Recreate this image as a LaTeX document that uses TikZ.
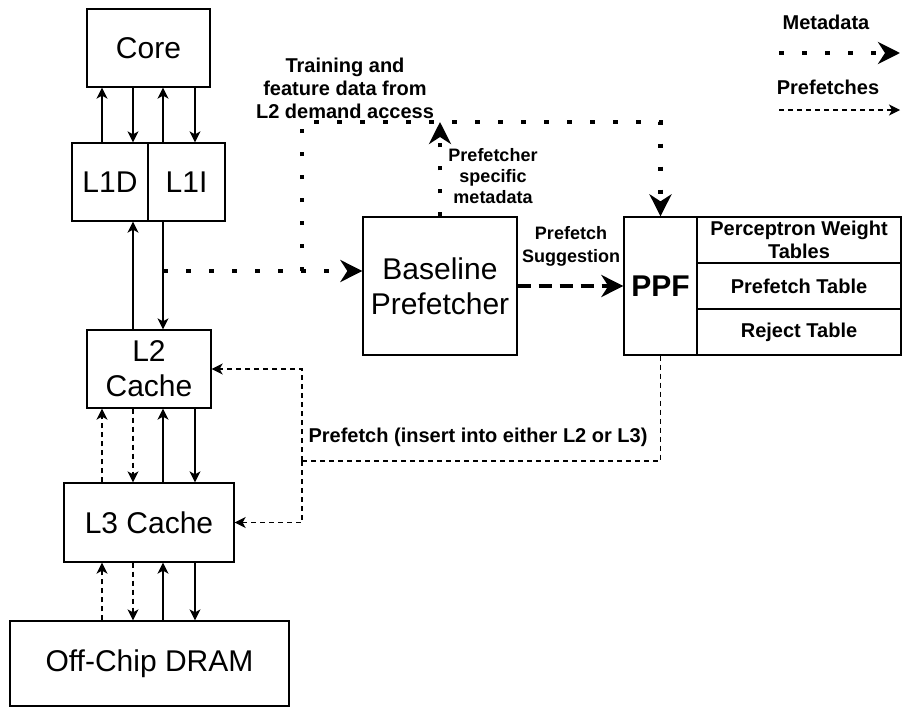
\documentclass[tikz,border=0pt]{standalone}
\usepackage{fontspec}
\setmainfont{Liberation Sans}
\usetikzlibrary{arrows.meta}
\tikzset{
  box/.style={draw, line width=1.3pt, inner sep=0pt, align=center, font=\fontsize{30}{35}\selectfont},
  lbl/.style={inner sep=0pt, align=center, font=\bfseries\fontsize{20}{22}\selectfont},
  conn/.style={line width=1.3pt, -{Stealth[length=11pt,width=11pt,inset=3pt]}},
  pfline/.style={line width=1.3pt, dash pattern=on 5pt off 4pt},
  pfarrow/.style={pfline, -{Stealth[length=11pt,width=11pt,inset=3pt]}},
  meta/.style={line width=4.5pt, dash pattern=on 4.5pt off 18.5pt},
  metaarrow/.style={meta, -{Stealth[length=22pt,width=22pt,inset=7pt]}},
  sugg/.style={line width=4.5pt, dash pattern=on 13pt off 8pt, -{Stealth[length=22pt,width=22pt,inset=7pt]}},
}
\begin{document}
\begin{tikzpicture}[x=1pt,y=-1pt]
\useasboundingbox (0,0) rectangle (902,707);

% boxes
\node[box, minimum width=123pt, minimum height=78pt] (core) at (148.5,48) {Core};
\node[box, minimum width=76pt, minimum height=78pt] (l1d) at (110,182) {L1D};
\node[box, minimum width=77pt, minimum height=78pt] (l1i) at (186.5,182) {L1I};
\node[box, minimum width=124pt, minimum height=78pt] (l2) at (149,369) {L2\\Cache};
\node[box, minimum width=170pt, minimum height=79pt] (l3) at (149,522.5) {L3 Cache};
\node[box, minimum width=279pt, minimum height=85pt] (dram) at (149.5,663.5) {Off-Chip DRAM};
\node[box, minimum width=154pt, minimum height=138pt] (base) at (440,286) {Baseline\\Prefetcher};
\node[box, minimum width=73pt, minimum height=138pt, font=\bfseries\fontsize{30}{35}\selectfont] (ppf) at (660.5,286) {PPF};
\node[box, minimum width=204pt, minimum height=46pt, font=\bfseries\fontsize{20}{23}\selectfont] (tab1) at (799,240) {Perceptron Weight\\Tables};
\node[box, minimum width=204pt, minimum height=46pt, font=\bfseries\fontsize{20}{23}\selectfont] (tab2) at (799,286) {Prefetch Table};
\node[box, minimum width=204pt, minimum height=46pt, font=\bfseries\fontsize{20}{23}\selectfont] (tab3) at (799,332) {Reject Table};

% column coordinates
\coordinate (ca) at (102,0);
\coordinate (cb) at (133,0);
\coordinate (cc) at (163,0);
\coordinate (cd) at (195,0);

% core <-> L1
\draw[conn] (l1d.north -| ca) -- (core.south -| ca);
\draw[conn] (core.south -| cb) -- (l1d.north -| cb);
\draw[conn] (l1i.north -| cc) -- (core.south -| cc);
\draw[conn] (core.south -| cd) -- (l1i.north -| cd);

% L1 <-> L2
\draw[conn] (l2.north -| cb) -- (l1d.south -| cb);
\draw[conn] (l1i.south -| cc) -- (l2.north -| cc);

% L2 <-> L3
\draw[pfarrow] (l3.north -| ca) -- (l2.south -| ca);
\draw[pfarrow] (l2.south -| cb) -- (l3.north -| cb);
\draw[conn] (l3.north -| cc) -- (l2.south -| cc);
\draw[conn] (l2.south -| cd) -- (l3.north -| cd);

% L3 <-> DRAM
\draw[pfarrow] (dram.north -| ca) -- (l3.south -| ca);
\draw[pfarrow] (l3.south -| cb) -- (dram.north -| cb);
\draw[conn] (dram.north -| cc) -- (l3.south -| cc);
\draw[conn] (l3.south -| cd) -- (dram.north -| cd);

% metadata paths
\coordinate (mstart) at (163,271);
\coordinate (tj) at (302,271);
\coordinate (ttop) at (302,122);
\draw[metaarrow] (mstart) -- (mstart -| base.west);
\draw[metaarrow] (tj) -- (ttop) -- (ttop -| ppf.north) -- (ppf.north);
\draw[metaarrow] (base.north) -- (base.north |- ttop);

% prefetch suggestion
\draw[sugg] (base.east) -- (ppf.west);

% prefetch paths
\coordinate (pj) at (302,461);
\draw[pfline] (ppf.south) -- (ppf.south |- pj) -- (pj);
\draw[pfarrow] (pj) -- (pj |- l2.east) -- (l2.east);
\draw[pfarrow] (pj) -- (pj |- l3.east) -- (l3.east);

% labels
\node[lbl, font=\bfseries\fontsize{20}{23}\selectfont] (ltrain) at (345,88) {Training and\\feature data from\\L2 demand access};
\node[lbl, font=\bfseries\fontsize{18}{21}\selectfont] (lspec) at (493,176) {Prefetcher\\specific\\metadata};
\node[lbl, font=\bfseries\fontsize{18}{22.5}\selectfont] (lsugg) at (571,246.5) {Prefetch\\Suggestion};
\node[lbl] (lpf) at (478,437) {Prefetch (insert into either L2 or L3)};

% legend
\node[lbl] (lmeta) at (826,22) {Metadata};
\coordinate (lm1) at (779,53);
\coordinate (lm2) at (900,53);
\draw[metaarrow] (lm1) -- (lm2);
\node[lbl] (lpref) at (828,87) {Prefetches};
\coordinate (lp1) at (779,110);
\coordinate (lp2) at (900,110);
\draw[pfarrow] (lp1) -- (lp2);
\end{tikzpicture}
\end{document}
